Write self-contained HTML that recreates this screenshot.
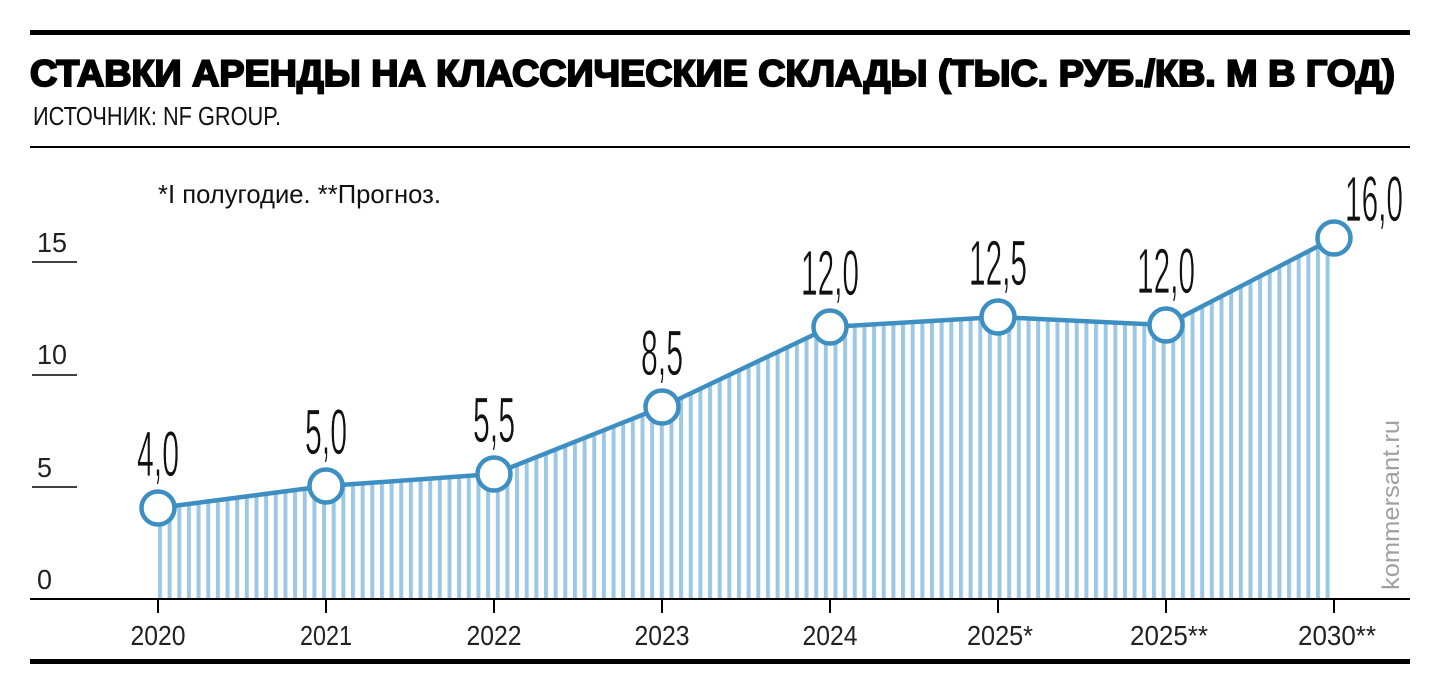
<!DOCTYPE html>
<html><head><meta charset="utf-8"><style>body{margin:0;background:#fff}svg{display:block}</style></head><body>
<svg width="1440" height="696" xmlns="http://www.w3.org/2000/svg">
<defs>
<pattern id="st" x="158" y="0" width="9.65" height="10" patternUnits="userSpaceOnUse">
<rect x="0" y="0" width="4" height="10" fill="#9cc8e6"/>
</pattern>
</defs>
<rect x="30" y="30" width="1380" height="5" fill="#000"/>
<text x="30" y="86" font-family="Liberation Sans, sans-serif" font-weight="bold" font-size="37" textLength="1365" lengthAdjust="spacingAndGlyphs" stroke="#000" stroke-width="2">СТАВКИ АРЕНДЫ НА КЛАССИЧЕСКИЕ СКЛАДЫ (ТЫС. РУБ./КВ. М В ГОД)</text>
<text x="33" y="125" font-family="Liberation Sans, sans-serif" font-size="26" textLength="248" lengthAdjust="spacingAndGlyphs" fill="#111">ИСТОЧНИК: NF GROUP.</text>
<rect x="30" y="146" width="1380" height="2" fill="#000"/>
<text x="158" y="203" font-family="Liberation Sans, sans-serif" font-size="26" textLength="283" lengthAdjust="spacingAndGlyphs" fill="#111">*I полугодие. **Прогноз.</text>
<g font-family="Liberation Sans, sans-serif" font-size="28" fill="#222">
<text x="37" y="252" textLength="30" lengthAdjust="spacingAndGlyphs">15</text>
<text x="37" y="364" textLength="30" lengthAdjust="spacingAndGlyphs">10</text>
<text x="37" y="477" textLength="15" lengthAdjust="spacingAndGlyphs">5</text>
<text x="37" y="589" textLength="15" lengthAdjust="spacingAndGlyphs">0</text>
</g>
<g stroke="#000" stroke-width="1.5">
<line x1="32" y1="262" x2="77" y2="262"/><line x1="32" y1="375" x2="77" y2="375"/><line x1="32" y1="487" x2="77" y2="487"/>
</g>
<polygon points="158,600 158,508 326,486 494,474 662,407 830,327 998,317 1166,325 1334,238 1334,600" fill="url(#st)"/>
<rect x="30" y="598" width="1380" height="2" fill="#000"/>
<g stroke="#000" stroke-width="2">
<line x1="158" y1="600" x2="158" y2="613"/><line x1="326" y1="600" x2="326" y2="613"/><line x1="494" y1="600" x2="494" y2="613"/><line x1="662" y1="600" x2="662" y2="613"/><line x1="830" y1="600" x2="830" y2="613"/><line x1="998" y1="600" x2="998" y2="613"/><line x1="1166" y1="600" x2="1166" y2="613"/><line x1="1334" y1="600" x2="1334" y2="613"/>
</g>
<polyline points="158,508 326,486 494,474 662,407 830,327 998,317 1166,325 1334,238" fill="none" stroke="#3d8fc2" stroke-width="4.5" stroke-linejoin="round"/>
<g fill="#fff" stroke="#3d8fc2" stroke-width="4.5">
<circle cx="158" cy="508" r="16.5"/><circle cx="326" cy="486" r="16.5"/><circle cx="494" cy="474" r="16.5"/><circle cx="662" cy="407" r="16.5"/><circle cx="830" cy="327" r="16.5"/><circle cx="998" cy="317" r="16.5"/><circle cx="1166" cy="325" r="16.5"/><circle cx="1334" cy="238" r="16.5"/>
</g>
<g font-family="Liberation Sans, sans-serif" font-size="64" fill="#111" text-anchor="middle" stroke="#fff" stroke-width="0.8">
<text x="158" y="476" textLength="42" lengthAdjust="spacingAndGlyphs">4,0</text>
<text x="326" y="454" textLength="42" lengthAdjust="spacingAndGlyphs">5,0</text>
<text x="494" y="442" textLength="42" lengthAdjust="spacingAndGlyphs">5,5</text>
<text x="662" y="375" textLength="42" lengthAdjust="spacingAndGlyphs">8,5</text>
<text x="830" y="295" textLength="58" lengthAdjust="spacingAndGlyphs">12,0</text>
<text x="998" y="285" textLength="58" lengthAdjust="spacingAndGlyphs">12,5</text>
<text x="1166" y="293" textLength="58" lengthAdjust="spacingAndGlyphs">12,0</text>
<text x="1374" y="221" textLength="58" lengthAdjust="spacingAndGlyphs">16,0</text>
</g>
<g font-family="Liberation Sans, sans-serif" font-size="28" fill="#222" text-anchor="middle">
<text x="158" y="645" textLength="55" lengthAdjust="spacingAndGlyphs">2020</text>
<text x="326" y="645" textLength="52" lengthAdjust="spacingAndGlyphs">2021</text>
<text x="494" y="645" textLength="55" lengthAdjust="spacingAndGlyphs">2022</text>
<text x="662" y="645" textLength="55" lengthAdjust="spacingAndGlyphs">2023</text>
<text x="830" y="645" textLength="55" lengthAdjust="spacingAndGlyphs">2024</text>
<text x="1000" y="645" textLength="66" lengthAdjust="spacingAndGlyphs">2025*</text>
<text x="1169" y="645" textLength="78" lengthAdjust="spacingAndGlyphs">2025**</text>
<text x="1337" y="645" textLength="78" lengthAdjust="spacingAndGlyphs">2030**</text>
</g>
<text transform="translate(1399,590) rotate(-90)" font-family="Liberation Sans, sans-serif" font-size="24" fill="#a0a0a0" textLength="170" lengthAdjust="spacingAndGlyphs">kommersant.ru</text>
<rect x="30" y="659" width="1380" height="5" fill="#000"/>
</svg>
</body></html>
